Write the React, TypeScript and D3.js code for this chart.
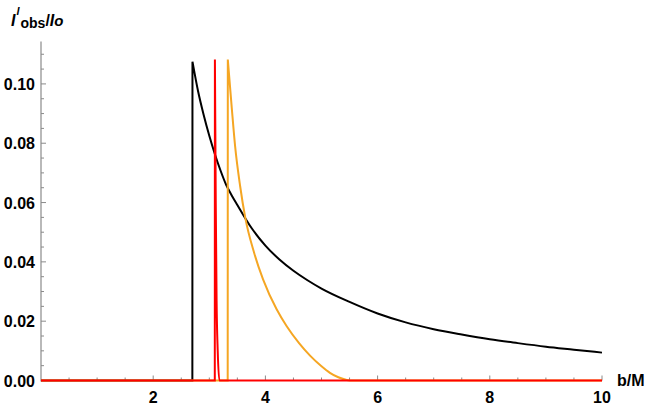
import React from 'react';
import * as d3 from 'd3';

// b/M , I_obs/I_o
const blackCurve: [number, number][] = [
  [0, 0], [2.698, 0], [2.70, 0.1075], [2.8, 0.0975], [2.9, 0.0895], [3.0, 0.0825],
  [3.1, 0.0763], [3.2, 0.0708], [3.3, 0.0660], [3.4, 0.0624], [3.5, 0.0592],
  [3.75, 0.0515], [4.0, 0.0455], [4.25, 0.0408], [4.5, 0.0370], [4.75, 0.0338],
  [5.0, 0.0310], [5.5, 0.0265], [6.0, 0.0226], [6.5, 0.0196], [7.0, 0.0173],
  [7.5, 0.0155], [8.0, 0.0139], [8.5, 0.0126], [9.0, 0.0114], [9.5, 0.0104],
  [10.0, 0.0094]
];

const orangeCurve: [number, number][] = [
  [0, 0], [3.328, 0], [3.33, 0.1082], [3.40, 0.0920], [3.46, 0.0790],
  [3.55, 0.0655], [3.64, 0.0550], [3.8, 0.0430], [3.96, 0.0340], [4.2, 0.0240],
  [4.38, 0.0183], [4.6, 0.0126], [4.8, 0.0083], [5.0, 0.0048], [5.15, 0.0026],
  [5.3, 0.0011], [5.45, 0.0002], [5.55, 0], [10, 0]
];

const redCurve: [number, number][] = [
  [0, 0], [3.098, 0], [3.10, 0.1082], [3.115, 0.060], [3.13, 0.027],
  [3.15, 0.010], [3.18, 0], [10, 0]
];

const xMajor = [2, 4, 6, 8, 10];
const yMajor = [0, 0.02, 0.04, 0.06, 0.08, 0.1];
const yLabels = ['0.00', '0.02', '0.04', '0.06', '0.08', '0.10'];

const W = 648, H = 408;

const App = () => {
  const x = d3.scaleLinear().domain([0, 10]).range([41, 602]);
  const y = d3.scaleLinear().domain([0, 0.1143]).range([380.5, 41.5]);
  const straight = d3.line<[number, number]>().x(d => x(d[0])).y(d => y(d[1]));
  const smooth = d3.line<[number, number]>().x(d => x(d[0])).y(d => y(d[1])).curve(d3.curveMonotoneX);

  // baseline + jump drawn straight, the decay after the peak smoothed
  const curvePath = (data: [number, number][]) => {
    let peak = 0;
    data.forEach((d, i) => { if (d[1] > data[peak][1]) peak = i; });
    return (straight(data.slice(0, peak + 1)) || '') + ' ' + (smooth(data.slice(peak)) || '');
  };

  const xMinor = d3.range(0.5, 10.01, 0.5).filter(v => xMajor.indexOf(v) < 0);
  const yMinor = d3.range(0.005, 0.1125, 0.005).filter(v => !yMajor.some(m => Math.abs(m - v) < 1e-6));
  const axisCol = '#8a8a8a';
  const font = '"Liberation Sans", Arial, sans-serif';

  return (
    <svg width={W} height={H} style={{ position: 'absolute', left: 0, top: 0, background: 'white' }} fontFamily={font}>
      {/* axes */}
      <line x1={x(0)} x2={x(0)} y1={y(0.1143)} y2={y(0) + 1} stroke={axisCol} strokeWidth={1.2} />
      <line x1={x(0)} x2={x(10)} y1={y(0)} y2={y(0)} stroke={axisCol} strokeWidth={1.2} />
      {xMinor.map(v => (
        <line key={'xm' + v} x1={x(v)} x2={x(v)} y1={y(0)} y2={y(0) - 3} stroke={axisCol} />
      ))}
      {xMajor.map(v => (
        <g key={'xM' + v}>
          <line x1={x(v)} x2={x(v)} y1={y(0)} y2={y(0) - 5} stroke={axisCol} />
          <text x={x(v)} y={403} textAnchor="middle" fontSize={16} fontWeight="bold">{v}</text>
        </g>
      ))}
      {yMinor.map(v => (
        <line key={'ym' + v} x1={x(0)} x2={x(0) + 3} y1={y(v)} y2={y(v)} stroke={axisCol} />
      ))}
      {yMajor.map((v, i) => (
        <g key={'yM' + v}>
          <line x1={x(0)} x2={x(0) + 5} y1={y(v)} y2={y(v)} stroke={axisCol} />
          <text x={35} y={y(v) + 6} textAnchor="end" fontSize={16} fontWeight="bold">{yLabels[i]}</text>
        </g>
      ))}

      {/* curves */}
      <path d={curvePath(blackCurve)} fill="none" stroke="#000" strokeWidth={2} strokeLinejoin="miter" />
      <path d={curvePath(orangeCurve)} fill="none" stroke="#f5a623" strokeWidth={2} strokeLinejoin="miter" />
      <path d={curvePath(redCurve)} fill="none" stroke="#ff0000" strokeWidth={2} strokeLinejoin="miter" />

      {/* axis labels */}
      <text x={11} y={26} fontSize={16} fontWeight="bold">
        <tspan fontStyle="italic">I</tspan>
        <tspan fontSize={11} fontStyle="italic" dx={1} dy={-11}>l</tspan>
        <tspan fontSize={14} dx={1} dy={13}>obs</tspan>
        <tspan dy={-2}>/</tspan>
        <tspan fontStyle="italic">I</tspan>
        <tspan fontSize={15} fontStyle="italic">o</tspan>
      </text>
      <text x={617} y={386} fontSize={16} fontWeight="bold">b/M</text>
    </svg>
  );
};

export default App;
